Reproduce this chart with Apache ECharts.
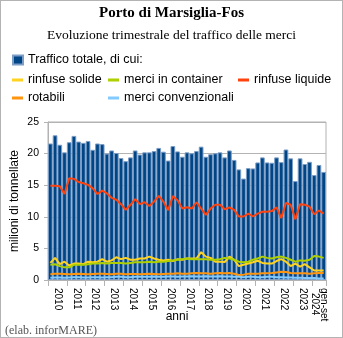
<!DOCTYPE html>
<html><head><meta charset="utf-8">
<script src="https://cdn.jsdelivr.net/npm/echarts@6/dist/echarts.min.js"></script>
<style>
html,body{margin:0;padding:0;background:#fff}
#wrap{position:relative;width:343px;height:338px}
#chart{width:343px;height:338px}
#frame{position:absolute;left:0;top:0;width:343px;height:338px;box-sizing:border-box;border:1px solid #b3b3b3;pointer-events:none}
</style></head><body>
<div id="wrap"><div id="chart"></div><div id="frame"></div></div>
<script>
// Quarterly traffic at the port of Marseille-Fos, million tonnes
const quarters = [
  '2010 T1','2010 T2','2010 T3','2010 T4','2011 T1','2011 T2','2011 T3','2011 T4',
  '2012 T1','2012 T2','2012 T3','2012 T4','2013 T1','2013 T2','2013 T3','2013 T4',
  '2014 T1','2014 T2','2014 T3','2014 T4','2015 T1','2015 T2','2015 T3','2015 T4',
  '2016 T1','2016 T2','2016 T3','2016 T4','2017 T1','2017 T2','2017 T3','2017 T4',
  '2018 T1','2018 T2','2018 T3','2018 T4','2019 T1','2019 T2','2019 T3','2019 T4',
  '2020 T1','2020 T2','2020 T3','2020 T4','2021 T1','2021 T2','2021 T3','2021 T4',
  '2022 T1','2022 T2','2022 T3','2022 T4','2023 T1','2023 T2','2023 T3','2023 T4',
  '2024 T1','2024 T2','2024 T3'
];
const yearLabels = ['2010','2011','2012','2013','2014','2015','2016','2017','2018',
  '2019','2020','2021','2022','2023','gen-set\n2024'];

const totale = [
  21.6, 22.9, 21.4, 20.2, 21.8, 22.8, 21.9, 21.7, 22.0, 20.6, 21.6, 21.5,
  20.0, 20.5, 20.1, 19.3, 18.8, 19.4, 20.5, 19.85, 20.2, 20.2, 20.4, 20.9,
  20.3, 18.9, 21.2, 20.35, 19.5, 20.2, 20.05, 20.4, 21.1, 19.5, 19.9, 20.05,
  20.2, 19.4, 20.5, 19.0, 17.5, 16.05, 17.7, 17.65, 18.6, 19.4, 18.6, 18.55,
  19.4, 18.65, 20.65, 19.25, 15.65, 19.25, 18.35, 18.7, 16.6, 18.2, 17.1
];
const rinfuseSolide = [
  2.7, 3.5, 2.5, 2.9, 2.3, 2.6, 2.6, 2.5, 2.9, 2.8, 2.9, 3.3,
  2.9, 3.1, 3.6, 3.3, 3.5, 3.2, 3.2, 3.4, 3.4, 3.7, 3.4, 3.2,
  3.1, 3.2, 3.0, 3.3, 3.2, 3.4, 3.4, 3.4, 4.4, 3.7, 3.5, 2.9,
  2.9, 2.85, 3.7, 3.2, 2.2, 2.4, 2.6, 2.8, 3.05, 2.7, 2.6, 2.6,
  3.0, 3.3, 2.9, 2.2, 2.6, 2.1, 2.5, 2.0, 1.5, 1.5, 1.5
];
const merciContainer = [
  2.4, 2.5, 2.2, 2.0, 2.0, 2.4, 2.4, 2.4, 2.5, 2.6, 2.6, 2.7,
  2.6, 2.7, 2.7, 2.7, 2.6, 2.7, 2.8, 2.8, 2.8, 2.9, 2.8, 2.9,
  2.9, 3.0, 3.1, 3.2, 3.3, 3.4, 3.3, 3.3, 3.3, 3.3, 3.2, 3.2,
  3.3, 3.5, 3.4, 3.2, 2.9, 2.8, 2.9, 3.2, 3.4, 3.7, 3.5, 3.4,
  3.6, 3.7, 3.5, 3.2, 2.9, 3.1, 3.05, 3.2, 3.8, 3.7, 3.5
];
const rinfuseLiquide = [
  14.9, 14.9, 14.85, 13.6, 16.1, 16.0, 15.5, 15.3, 15.05, 14.5, 13.6, 14.15,
  13.7, 13.0, 12.7, 12.0, 11.1, 11.9, 12.8, 12.0, 12.3, 11.7, 12.4, 13.3,
  12.4, 11.05, 13.3, 12.6, 11.3, 11.5, 11.3, 12.3, 11.3, 10.3, 11.3, 11.9,
  11.9, 11.2, 11.5, 11.1, 10.05, 10.05, 10.5, 10.05, 10.5, 10.8, 10.8, 10.9,
  11.5, 9.8, 12.2, 11.9, 9.6, 12.0, 11.9, 11.6, 10.4, 11.0, 10.5
];
const rotabili = [
  0.9, 1.0, 1.0, 0.95, 0.9, 0.95, 1.0, 0.95, 0.9, 0.95, 1.0, 1.0,
  0.95, 0.9, 1.0, 1.0, 0.9, 0.95, 0.95, 0.9, 0.95, 1.0, 0.95, 0.9,
  0.95, 1.0, 1.0, 1.05, 1.0, 1.0, 1.05, 1.1, 1.05, 1.05, 1.0, 1.05,
  1.1, 1.05, 1.1, 1.0, 0.8, 0.85, 1.0, 1.0, 1.0, 1.05, 1.05, 1.1,
  1.2, 1.3, 1.25, 1.1, 1.05, 1.05, 1.05, 1.0, 1.05, 1.1, 1.1
];
const merciConvenzionali = [
  0.35, 0.4, 0.4, 0.35, 0.4, 0.45, 0.45, 0.4, 0.4, 0.45, 0.45, 0.4,
  0.45, 0.45, 0.5, 0.5, 0.45, 0.45, 0.5, 0.5, 0.5, 0.5, 0.55, 0.5,
  0.5, 0.55, 0.55, 0.5, 0.55, 0.55, 0.6, 0.55, 0.55, 0.6, 0.55, 0.55,
  0.6, 0.55, 0.55, 0.5, 0.5, 0.45, 0.5, 0.5, 0.45, 0.45, 0.5, 0.5,
  0.45, 0.45, 0.4, 0.4, 0.35, 0.35, 0.3, 0.3, 0.3, 0.25, 0.25
];
const yTicks = { min: 0, max: 25, step: 5 };

// Half-quarter positions: a point axis with a slot at every bar edge and bar centre,
// used for the year ticks (at year edges) and year labels (at year centres).
const halfSteps = new Array(quarters.length * 2 + 1).fill('');
yearLabels.forEach(function (lab, j) {
  const isLast = j === yearLabels.length - 1;
  const start = j * 4;
  const len = isLast ? quarters.length - start : 4;
  halfSteps[start * 2 + len] = lab;
});
const yearEdges = {};
yearLabels.forEach(function (lab, j) { yearEdges[j * 8] = true; });
yearEdges[quarters.length * 2] = true;

const grey = '#b3b3b3';
const font = 'Liberation Sans';
const serif = 'Liberation Serif';

const names = ['Traffico totale, di cui:', 'rinfuse solide', 'merci in container',
  'rinfuse liquide', 'rotabili', 'merci convenzionali'];

function lineLegend(name, left, top) {
  return {
    data: [name], left: left, top: top, padding: 0, icon: 'rect',
    itemWidth: 11, itemHeight: 3, itemGap: 0,
    textStyle: { fontSize: 12.5, color: '#000', fontFamily: font }
  };
}

// two-line label for the partial year: second line centred under the first
function yearLabel(v) {
  if (v.indexOf('\n') < 0) return v;
  const parts = v.split('\n');
  return '{a|' + parts[0] + '}\n{b|' + parts[1] + '}';
}

const chart = echarts.init(document.getElementById('chart'), null, { renderer: 'canvas' });
chart.setOption({
  animation: false,
  textStyle: { fontFamily: font },
  title: [
    { text: 'Porto di Marsiglia-Fos', left: 'center', top: 6, padding: 0,
      textStyle: { fontFamily: serif, fontWeight: 'bold', fontSize: 15, color: '#000' } },
    { text: 'Evoluzione trimestrale del traffico delle merci', left: 'center', top: 28, padding: 0,
      textStyle: { fontFamily: serif, fontWeight: 'normal', fontSize: 13.5, color: '#000' } },
    { text: '(elab. inforMARE)', left: 5, top: 325, padding: 0,
      textStyle: { fontFamily: serif, fontWeight: 'normal', fontSize: 12, color: '#555' } }
  ],
  legend: [
    { data: [names[0]], left: 12, top: 53.5, padding: 0, icon: 'rect', itemWidth: 10, itemHeight: 9,
      textStyle: { fontSize: 12.5, color: '#000', fontFamily: font } },
    lineLegend(names[1], 12, 73.5),
    lineLegend(names[2], 108, 73.5),
    lineLegend(names[3], 238, 73.5),
    lineLegend(names[4], 12, 91.5),
    lineLegend(names[5], 108, 91.5)
  ],
  grid: { left: 48, right: 17, top: 122, bottom: 58, show: true, borderColor: grey, borderWidth: 1,
    backgroundColor: 'transparent' },
  xAxis: [
    { type: 'category', data: quarters, boundaryGap: true,
      axisLine: { lineStyle: { color: grey } },
      axisTick: { interval: 0, length: 3, lineStyle: { color: grey } },
      axisLabel: { show: false }, splitLine: { show: false } },
    { type: 'category', data: halfSteps, boundaryGap: false, position: 'bottom',
      axisLine: { show: false },
      axisTick: { interval: function (i) { return !!yearEdges[i]; }, length: 6, lineStyle: { color: grey } },
      axisLabel: { interval: function (i, v) { return v !== ''; }, rotate: -90, margin: 8,
        fontSize: 10, color: '#000', fontFamily: font, lineHeight: 9, formatter: yearLabel,
        rich: {
          a: { fontSize: 10, lineHeight: 9, color: '#000', fontFamily: font },
          b: { fontSize: 10, lineHeight: 9, color: '#000', fontFamily: font, padding: [0, 0, 0, 5] }
        } },
      splitLine: { show: false },
      name: 'anni', nameLocation: 'middle', nameGap: 31, nameMoveOverlap: false,
      nameTextStyle: { fontSize: 12, color: '#000', fontFamily: font, padding: [0, 20, 0, 0] } }
  ],
  yAxis: {
    type: 'value', min: yTicks.min, max: yTicks.max, interval: yTicks.step,
    axisLine: { show: true, lineStyle: { color: grey } },
    axisTick: { show: true, length: 4, lineStyle: { color: grey } },
    axisLabel: { fontSize: 10.5, color: '#000', margin: 9, fontFamily: font },
    splitLine: { lineStyle: { color: grey } },
    name: 'milioni di tonnellate', nameLocation: 'middle', nameGap: 27, nameMoveOverlap: false,
    nameTextStyle: { fontSize: 12, color: '#000', fontFamily: font }
  },
  series: [
    { name: names[0], type: 'bar', data: totale, xAxisIndex: 0, barCategoryGap: '0%',
      itemStyle: { color: '#004586', borderColor: '#7b9dc6', borderWidth: 1 } },
    { name: names[1], type: 'line', data: rinfuseSolide, showSymbol: false, color: '#ffd320',
      lineStyle: { width: 2 } },
    { name: names[2], type: 'line', data: merciContainer, showSymbol: false, color: '#aecf00',
      lineStyle: { width: 2 } },
    { name: names[3], type: 'line', data: rinfuseLiquide, showSymbol: false, color: '#ff420e',
      lineStyle: { width: 2 } },
    { name: names[4], type: 'line', data: rotabili, showSymbol: false, color: '#ff950e',
      lineStyle: { width: 2 } },
    { name: names[5], type: 'line', data: merciConvenzionali, showSymbol: false, color: '#83caff',
      lineStyle: { width: 2 } }
  ]
});
</script>
</body></html>
